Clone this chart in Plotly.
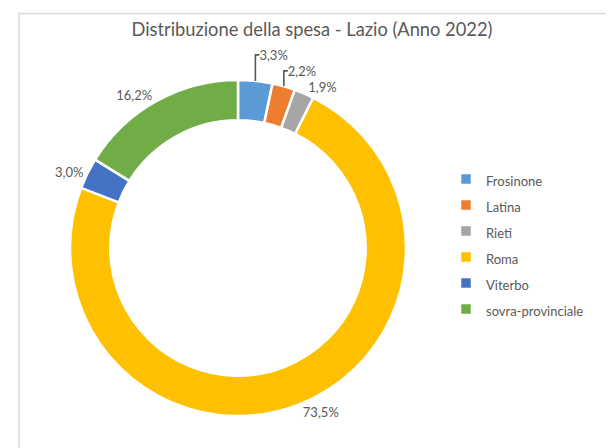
import plotly.graph_objects as go

categories = ["Frosinone", "Latina", "Rieti", "Roma", "Viterbo", "sovra-provinciale"]
spesa_pct = [3.3, 2.2, 1.9, 73.5, 3.0, 16.2]
colors = ["#5B9BD5", "#ED7D31", "#A5A5A5", "#FFC000", "#4472C4", "#70AD47"]
title_text = "Distribuzione della spesa - Lazio (Anno 2022)"

W, H = 614, 448
cx, cy, r = 230, 240, 168

legend_labels = ['<span style="font-size:13px">%s</span>' % c for c in categories]

fig = go.Figure(go.Pie(
    labels=legend_labels,
    values=spesa_pct,
    sort=False,
    direction="clockwise",
    rotation=0,
    hole=0.76,
    marker=dict(colors=colors, line=dict(color="white", width=2.5)),
    textposition="outside",
    texttemplate="%{value:.1f}%",
    textfont=dict(family="Lato, Open Sans, sans-serif", size=13, color="#595959"),
    hoverinfo="label+value",
    domain=dict(x=[(cx - r) / W, (cx + r) / W], y=[(H - cy - r) / H, (H - cy + r) / H]),
))

fig.update_layout(
    width=W, height=H,
    separators=",.",
    paper_bgcolor="white",
    margin=dict(l=0, r=0, t=0, b=0),
    title=dict(text=title_text, x=0.495, xanchor="center", y=1 - 22 / H, yanchor="middle",
               font=dict(family="Lato, Open Sans, sans-serif", size=18.3, color="#595959")),
    legend=dict(x=438 / W, xanchor="left", y=1 - 153 / H, yanchor="top",
                font=dict(family="Lato, Open Sans, sans-serif", size=17.7, color="#595959"),
                bgcolor="rgba(0,0,0,0)"),
    shapes=[dict(type="rect", xref="paper", yref="paper",
                 x0=11 / W, x1=608 / W, y0=-0.2, y1=1 - 5.5 / H,
                 line=dict(color="#D9D9D9", width=1.5))],
)

fig.write_html("out.html")
